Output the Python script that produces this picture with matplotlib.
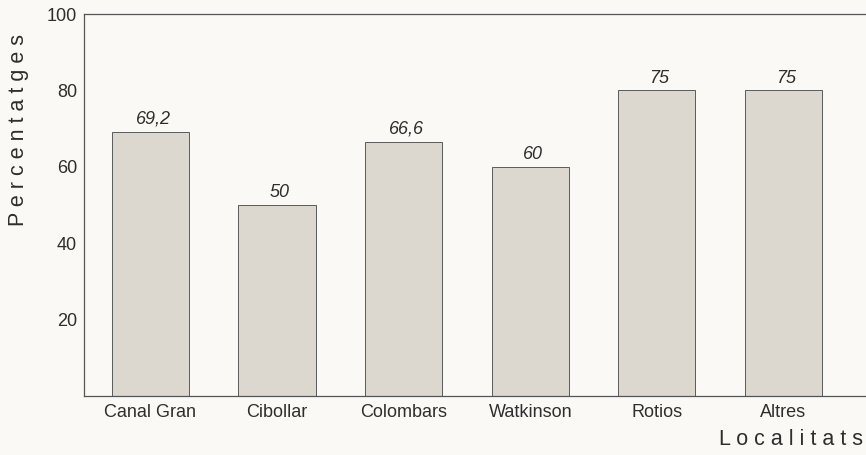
import matplotlib.pyplot as plt

# data (bars for "75" are drawn at 80 in the original)
localitats = ["Canal Gran", "Cibollar", "Colombars", "Watkinson", "Rotios", "Altres"]
bar_heights = [69.2, 50, 66.6, 60, 80, 80]
value_labels = ["69,2", "50", "66,6", "60", "75", "75"]
y_ticks = [20, 40, 60, 80, 100]

plt.rcParams["font.family"] = ["Liberation Sans", "DejaVu Sans"]

paper = "#faf9f5"
ink = "#2e2e2e"

fig = plt.figure(figsize=(8.66, 4.55), dpi=100)
fig.patch.set_facecolor(paper)
ax = fig.add_axes([0.097, 0.1297, 0.903, 0.8395])
ax.set_facecolor(paper)

x = list(range(len(localitats)))
ax.bar(x, bar_heights, width=0.61, color="#dcd8cf",
       edgecolor="#5a5a5a", linewidth=0.7, zorder=2)

for xi, h, lab in zip(x, bar_heights, value_labels):
    ax.text(xi + 0.02, h + 1.0, lab, ha="center", va="bottom",
            fontsize=13, style="italic", color=ink)

ax.set_xlim(-0.525, 5.652)
ax.set_ylim(0, 100)
ax.set_yticks(y_ticks)
ax.set_xticks(x)
ax.set_xticklabels(localitats)
ax.tick_params(axis="both", length=0, labelsize=13, colors=ink)
ax.tick_params(axis="y", pad=5)
ax.tick_params(axis="x", pad=6)

ax.spines["right"].set_visible(False)
for s in ["left", "top", "bottom"]:
    ax.spines[s].set_color("#555555")
    ax.spines[s].set_linewidth(0.9)

fig.text(0.021, 0.714, " ".join("Percentatges"),
         rotation=90, ha="center", va="center", fontsize=15.5, color=ink)
fig.text(0.996, 0.033, " ".join("Localitats"),
         ha="right", va="center", fontsize=15.5, color=ink)

fig.savefig("out.png", dpi=100, facecolor=paper)
